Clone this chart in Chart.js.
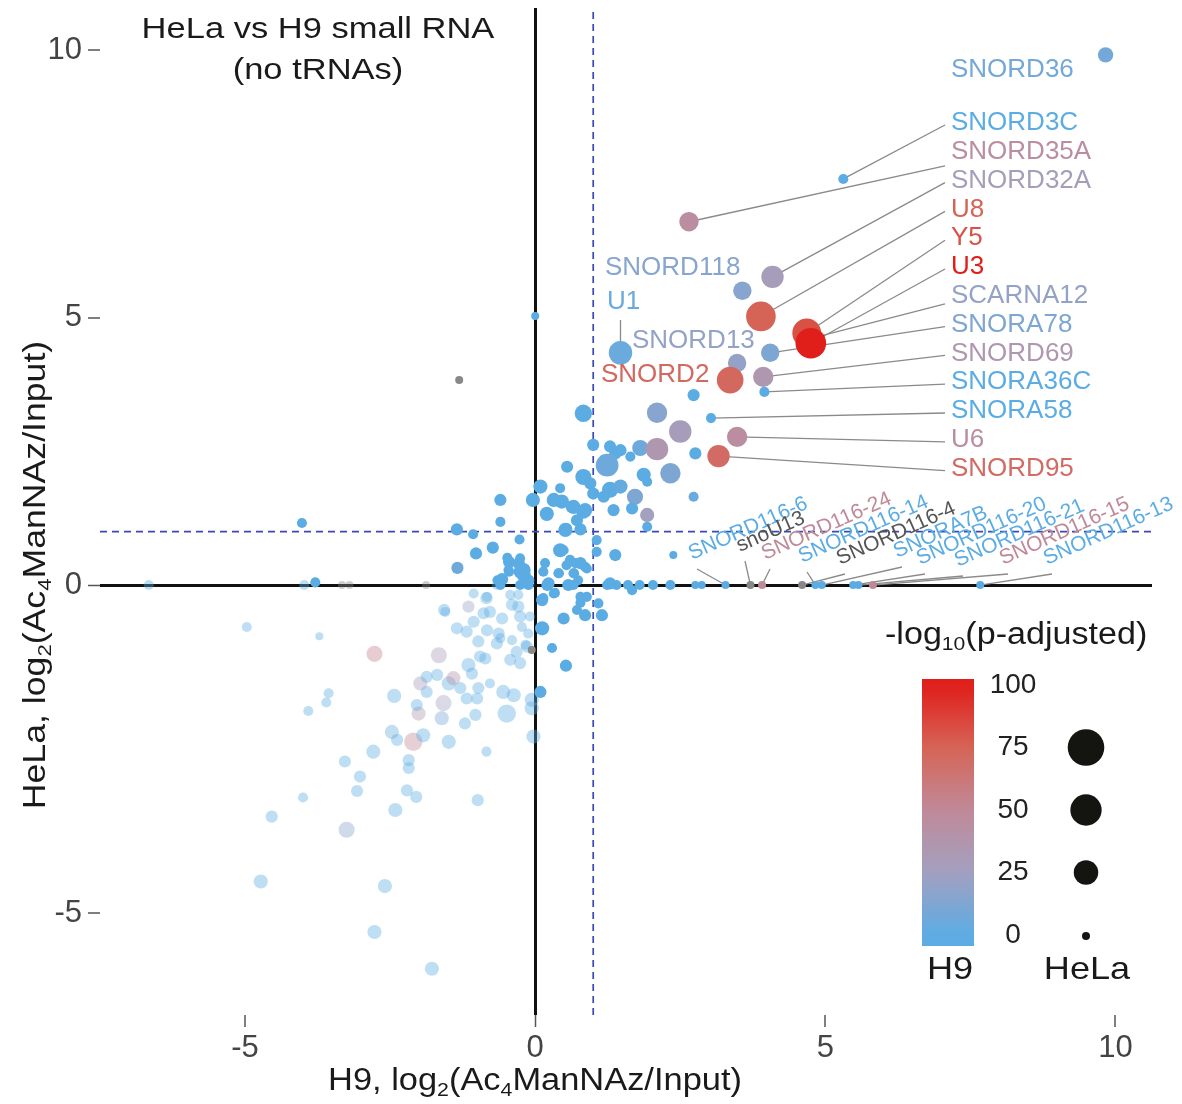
<!DOCTYPE html>
<html>
<head>
<meta charset="utf-8">
<script src="https://cdn.jsdelivr.net/npm/chart.js@4.4.1/dist/chart.umd.min.js"></script>
<style>
html,body{margin:0;padding:0;background:#fff;}
#wrap{width:1182px;height:1104px;position:relative;}
</style>
</head>
<body>
<div id="wrap"><canvas id="c" width="1182" height="1104"></canvas></div>
<script>
// ---------------- DATA ----------------
const xTicks = [-5, 0, 5, 10];
const yTicks = [-5, 0, 5, 10];
const xRange = [-7.5, 10.63];
const yRange = [-6.555, 10.785];
const thresholdX = 1;
const thresholdY = 1;
const colorLegendSteps = [0, 25, 50, 75, 100];
const sizeLegendSteps = [0, 25, 50, 75];

// [H9 log2, HeLa log2, H9 -log10 padj (null = NA), HeLa -log10 padj]
const enrichedPoints = [
  [0.00,5.03,0,0],[-4.02,1.16,0,0.4],[-3.79,0.05,0,0.4],
  [-0.60,1.59,0,1.6],[-0.60,1.18,0,0.4],[-1.35,1.04,0,1.6],[-1.07,0.95,0,0.4],[-0.27,0.85,0,0.4],
  [-0.73,0.70,0,1.6],[-1.02,0.59,0,1.6],[-0.48,0.51,0,0.4],[-0.26,0.50,0,0.4],[-1.34,0.32,6,1.6],
  [-0.46,0.28,0,0.4],[-0.20,0.28,0,3.5],[-0.20,0.19,0,3.5],[-0.57,0.11,0,1.6],[-0.04,1.59,0,3.5],
  [0.09,1.84,0,3.5],[0.17,0.41,0,0.4],[0.14,0.25,0,0.4],[0.40,0.22,0,0.4],[0.23,0.03,0,1.6],
  [0.43,0.65,0,3.5],[0.60,0.47,0,0.4],[0.78,0.41,0,1.6],[0.66,0.22,0,0.4],[0.57,0.00,0,1.6],
  [0.52,1.03,0,3.5],[0.78,1.04,0,1.6],[0.20,1.33,0,3.5],[0.32,1.59,0,3.5],[0.46,1.56,0,3.5],
  [0.43,1.81,0,0.4],[0.55,2.21,0,1.6],[0.63,1.46,0,1.6],[0.83,1.37,0,3.5],[0.83,2.02,0,6],
  [0.95,1.90,0,1.6],[1.00,1.71,0,1.6],[1.00,2.62,0,1.6],[1.29,2.59,0,1.6],[1.38,2.46,0,1.6],
  [1.24,2.24,6,20],[1.29,1.78,0,6],[1.35,1.40,0,1.6],[1.06,0.84,0,0.4],[1.06,0.62,0,0.4],
  [1.38,0.56,0,1.6],[0.89,0.31,0,0.4],[1.29,0.03,0,1.6],[0.83,3.21,0,8],[1.00,2.65,0,0],
  [1.47,2.52,0,1.6],[1.64,2.40,0,0.4],[1.81,2.56,6,6],[2.10,2.54,35,19],[2.10,3.22,15,14],
  [2.50,2.87,28,19],[2.33,2.09,12,14],[2.73,3.55,0,1.6],[2.76,2.46,0,1.6],[2.73,1.65,5,0.4],
  [1.47,1.84,3,3.5],[1.72,1.65,12,6],[1.87,2.06,0,3.5],[1.93,1.93,0,0.4],[1.67,1.43,0,1.6],
  [1.93,1.31,25,3.5],[1.93,1.09,0,0.4],[1.18,1.65,0,1.6],[0.66,1.46,0,3.5],[0.86,1.40,0,3.5],
  [0.72,1.21,0,1.6],[0.55,1.06,0,0.4],[0.49,0.65,0,0.4],[0.69,0.41,0,0.4],[0.86,0.34,0,0.4],
  [2.38,0.56,0,0],
  [0.66,0,0,0.4],[1.24,0,0,0.4],[1.40,0,0,0.4],[1.60,0,0,0.4],[1.80,0,0,0.4],[2.03,0,0,0.4],
  [2.33,0,0,0.4],[2.76,0,0,0],[2.87,0,0,0],[1.67,-0.08,0,0.4],
  [0.12,-0.23,0,1.6],[0.32,-0.13,0,0.4],[0.14,-0.20,0,0.4],[0.12,-0.66,0,3.5],[0.49,-0.51,0,1.6],
  [0.29,-0.96,0,0.4],[0.53,-1.23,0,1.6],[0.09,-1.63,0,1.6],[0.78,-0.18,0,0.4],[0.89,-0.18,0,0.4],
  [0.72,-0.38,0,0.4],[0.86,-0.46,0,1.6],[1.15,-0.46,0,1.6],[1.09,-0.28,0,0.4],[0.78,-0.27,0,0.4],
  [-1.31,3.83,null,0],[-0.06,-0.99,null,0],
  [-0.45,0.43,0,1.6],[-0.28,0.40,0,1.6],[-0.25,0.25,0,3.5],[-0.19,0.22,0,1.6],[-0.12,0.09,0,1.6],
  [-0.65,0.09,0,0.4],[-0.45,0.25,0,0.4],[0.41,0.22,0,0.4],[0.54,0.37,0,0.4],[0.67,0.22,0,0.4],
  [0.74,0.09,0,0.4],[0.21,0.00,0,1.6],[0.34,-0.12,0,0.4],
  [-0.60,0,0,0.4],[-0.26,0,0,0.4],[-0.12,0,0,0.4]
];

const backgroundPoints = [
  [-6.66,0,0,0.4],[-3.98,0,0,0.4],[-0.66,0,0,0.4],[-0.10,0,0,0.4],
  [-3.33,0,null,0],[-3.20,0,null,0],[-1.88,0,null,0],
  [-3.72,-0.78,0,0],[-2.77,-1.05,55,6],[-1.66,-1.07,30,6],[-3.56,-1.65,0,0.4],[-3.60,-1.79,0,0.4],
  [-3.91,-1.92,0,0.4],[-2.43,-1.69,0,3.5],[-3.28,-2.69,0,1.6],[-2.79,-2.54,0,3.5],[-3.02,-2.92,0,1.6],
  [-2.18,-2.67,0,1.6],[-2.18,-2.79,0,1.6],[-2.47,-2.24,5,3.5],[-2.38,-2.36,0,1.6],[-2.10,-2.39,50,10],
  [-2.01,-1.96,35,3.5],[-2.04,-1.83,0,1.6],[-1.98,-1.50,30,3.5],[-1.87,-1.40,0,1.6],[-1.69,-1.37,0,1.6],
  [-1.87,-1.63,0,1.6],[-1.58,-1.80,25,6],[-1.61,-2.03,10,3.5],[-1.93,-2.29,0,3.5],[-1.49,-2.39,0,3.5],
  [-1.49,-1.50,0,3.5],[-1.41,-1.42,40,3.5],[-1.29,-1.57,0,1.6],[-1.21,-2.11,0,1.6],[-1.03,-1.98,0,1.6],
  [-0.84,-2.54,0,0.4],[-1.15,-1.22,0,3.5],[-1.09,-1.35,0,1.6],[-0.98,-1.57,0,1.6],[-1.00,-1.73,0,1.6],
  [-1.18,-1.73,0,1.6],[-0.78,-1.50,0,0.4],[-0.95,-1.09,0,1.6],[-0.86,-1.12,0,1.6],[-0.98,-0.86,0,1.6],
  [-0.83,-0.69,0,1.6],[-0.66,-0.89,0,1.6],[-0.60,-0.81,0,0.4],[-0.43,-1.14,0,1.6],[-0.32,-1.02,0,1.6],
  [-0.17,-0.91,0,0.4],[-0.40,-0.84,0,0.4],[-0.55,-1.63,0,3.5],[-0.37,-1.68,0,3.5],[-0.49,-1.96,0,10],
  [-0.06,-1.75,0,3.5],[-0.06,-1.88,0,3.5],[-0.03,-2.31,0,3.5],[-0.89,-0.43,0,1.6],[-0.78,-0.41,0,1.6],
  [-0.57,-0.51,0,1.6],[-0.43,-0.15,0,0.4],[-0.29,-0.15,0,0.4],[-0.40,-0.30,0,1.6],[-0.29,-0.33,0,1.6],
  [-0.26,-0.48,0,1.6],[-0.23,-0.64,0,0.4],[-1.06,-0.13,0,0.4],[-0.83,-0.18,0,0.4],[-1.15,-0.33,20,1.6],
  [-1.55,-0.41,0,0.4],[-1.35,-0.66,0,1.6],[-1.18,-0.71,0,1.6],[-1.06,-0.56,0,1.6],[-0.63,-0.74,0,1.6],
  [-0.12,-0.74,0,0.4],[-0.09,-0.48,0,0.4],[-0.26,-1.19,0,1.6],[-0.14,-0.94,0,1.6],
  [-3.07,-3.14,0,1.6],[-4.00,-3.24,0,0.4],[-4.54,-3.53,0,1.6],[-2.21,-3.13,0,1.6],[-2.05,-3.23,0,1.6],
  [-2.41,-3.43,0,3.5],[-0.99,-3.28,0,1.6],[-3.25,-3.73,15,6],[-4.73,-4.52,0,3.5],[-2.59,-4.59,0,3.5],
  [-2.77,-5.29,0,3.5],[-1.78,-5.85,0,3.5],[-4.97,-0.64,0,0.4],[-1.57,-0.38,0,1.6],[-0.84,-0.20,0,1.6]
];

// labelled RNAs, drawn in this order (low H9 significance first)
const labelledNames = ['SNORA36C','SNORA58','SNORD3C','U1','SNORD36','SNORA78','SNORD118','SNORD13','SCARNA12',
  'SNORD32A','SNORD69','SNORD35A','U6','SNORD95','SNORD2','U8','Y5','U3'];
const labelledPoints = [
  [3.95,3.61,0,0.4],[3.03,3.12,0,0.4],[5.31,7.59,0,0.4],[1.47,4.34,5,22],[9.83,9.91,8,5],
  [4.05,4.34,12,10],[3.57,5.50,15,10],[3.48,4.15,20,10],[4.72,4.60,20,10],
  [4.09,5.76,28,19],[3.93,3.89,35,14],[2.65,6.79,45,12],[3.48,2.77,45,14],[3.16,2.41,70,19],
  [3.36,3.83,72,32],[3.89,5.02,75,43],[4.68,4.71,82,40],[4.75,4.52,100,47]
];

// RNAs on the HeLa = 0 line with slanted labels
const axisLabelNames = ['SNORD116-6','snoU13','SNORD116-24','SNORD116-14','SNORD116-4','SNORA7B',
  'SNORD116-20','SNORD116-21','SNORD116-15','SNORD116-13'];
const axisLabelPoints = [
  [3.28,0,0,0],[3.71,0,null,0],[3.91,0,50,0],[4.83,0,0,0],[4.60,0,null,0],[4.94,0,0,0],
  [5.48,0,0,0],[5.57,0,0,0],[5.82,0,50,0],[7.67,0,0,0]
];

// ---------------- STYLE / LAYOUT ----------------
const FONT = "'Liberation Sans', Arial, Helvetica, sans-serif";
const colorStops = [[0,[92,172,228]],[25,[163,160,192]],[50,[192,137,152]],[75,[214,100,86]],[100,[224,30,26]]];
function colorFor(v, a) {
  if (a === undefined) a = 1;
  if (v === null || v === undefined) return 'rgba(136,136,136,' + a + ')';
  v = Math.max(0, Math.min(100, v));
  for (let i = 0; i < colorStops.length - 1; i++) {
    const [v0, c0] = colorStops[i], [v1, c1] = colorStops[i + 1];
    if (v <= v1) {
      const t = (v - v0) / (v1 - v0);
      const c = c0.map((k, j) => Math.round(k + (c1[j] - k) * t));
      return 'rgba(' + c[0] + ',' + c[1] + ',' + c[2] + ',' + a + ')';
    }
  }
  const c = colorStops[colorStops.length - 1][1];
  return 'rgba(' + c[0] + ',' + c[1] + ',' + c[2] + ',' + a + ')';
}
function textColorFor(v) { return (v === null || v === undefined) ? '#555' : colorFor(v, 1); }
function radiusFor(v) { return 4 + 1.65 * Math.sqrt(Math.max(0, v)); }

// piecewise-linear value axis (the reference draws the negative half at a larger step)
const NEG_STRETCH = 1.226;
class SplitLinearScale extends Chart.LinearScale {
  _t(v) { return v < 0 ? v * NEG_STRETCH : v; }
  _inv(t) { return t < 0 ? t / NEG_STRETCH : t; }
  getPixelForValue(value) {
    if (value === null || value === undefined || isNaN(value)) return NaN;
    const a = this._t(this.min), b = this._t(this.max);
    return this.getPixelForDecimal((this._t(value) - a) / (b - a));
  }
  getValueForPixel(pixel) {
    const a = this._t(this.min), b = this._t(this.max);
    return this._inv(a + this.getDecimalForPixel(pixel) * (b - a));
  }
}
SplitLinearScale.id = 'splitLinear';
SplitLinearScale.defaults = Chart.LinearScale.defaults;
Chart.register(SplitLinearScale);

function drawRich(ctx, segs, x, y, o) {
  const size = o.size, sub = size * 0.62;
  ctx.save();
  ctx.translate(x, y);
  if (o.rotate) ctx.rotate(o.rotate);
  ctx.scale(o.sx || 1, 1);
  ctx.fillStyle = o.color || '#111';
  ctx.textBaseline = o.baseline || 'middle';
  ctx.textAlign = 'left';
  let w = 0;
  const ws = segs.map(s => { ctx.font = (s.sub ? sub : size) + 'px ' + FONT; const m = ctx.measureText(s.t).width; w += m; return m; });
  let cx = o.align === 'center' ? -w / 2 : (o.align === 'right' ? -w : 0);
  segs.forEach((s, i) => {
    ctx.font = (s.sub ? sub : size) + 'px ' + FONT;
    ctx.fillText(s.t, cx, s.sub ? size * 0.32 : 0);
    cx += ws[i];
  });
  ctx.restore();
}
const T = t => ({ t: t });
const S = t => ({ t: t, sub: true });

const rightColumnOrder = ['SNORD3C','SNORD35A','SNORD32A','U8','Y5','U3','SCARNA12','SNORA78','SNORD69','SNORA36C','SNORA58','U6','SNORD95'];
const rightColumnLineDy = { SNORD35A: 14, SCARNA12: 8 };
const freeLabelPos = { SNORD36: [951, 70], SNORD118: [605, 268], U1: [607, 302], SNORD13: [632, 341], SNORD2: [601, 375] };
const slantAnchors = [[692,560],[740,552],[765,560],[802,563],[840,565],[897,558],[920,565],[958,567],[1003,565],[1047,565]];

const annotations = {
  id: 'annotations',
  beforeDatasetsDraw(chart) {
    const ctx = chart.ctx, xs = chart.scales.x, ys = chart.scales.y;
    ctx.save();
    ctx.strokeStyle = '#8a8a8a';
    ctx.lineWidth = 1.3;
    rightColumnOrder.forEach((name, i) => {
      const p = labelledPoints[labelledNames.indexOf(name)];
      const ly = 123 + i * 28.8 + (rightColumnLineDy[name] || 2);
      ctx.beginPath();
      ctx.moveTo(945, ly);
      ctx.lineTo(xs.getPixelForValue(p[0]), ys.getPixelForValue(p[1]));
      ctx.stroke();
    });
    const u1 = labelledPoints[labelledNames.indexOf('U1')];
    ctx.beginPath();
    ctx.moveTo(xs.getPixelForValue(u1[0]), 320);
    ctx.lineTo(xs.getPixelForValue(u1[0]), ys.getPixelForValue(u1[1]));
    ctx.stroke();
    axisLabelPoints.forEach((p, i) => {
      const a = slantAnchors[i];
      ctx.beginPath();
      ctx.moveTo(a[0] + 5, a[1] + 9);
      ctx.lineTo(xs.getPixelForValue(p[0]), ys.getPixelForValue(p[1]));
      ctx.stroke();
    });
    ctx.restore();
  },
  afterDatasetsDraw(chart) {
    const ctx = chart.ctx;
    rightColumnOrder.forEach((name, i) => {
      const p = labelledPoints[labelledNames.indexOf(name)];
      drawRich(ctx, [T(name)], 951, 123 + i * 28.8, { size: 26, color: textColorFor(p[2]) });
    });
    Object.keys(freeLabelPos).forEach(name => {
      const p = labelledPoints[labelledNames.indexOf(name)];
      const pos = freeLabelPos[name];
      drawRich(ctx, [T(name)], pos[0], pos[1], { size: 26, color: textColorFor(p[2]) });
    });
    axisLabelNames.forEach((name, i) => {
      const a = slantAnchors[i];
      drawRich(ctx, [T(name)], a[0], a[1], { size: 21, color: textColorFor(axisLabelPoints[i][2]), rotate: -24 * Math.PI / 180, baseline: 'alphabetic' });
    });
    drawRich(ctx, [T('HeLa vs H9 small RNA')], 318, 30, { size: 30, sx: 1.15, align: 'center', color: '#1a1a1a' });
    drawRich(ctx, [T('(no tRNAs)')], 318, 71, { size: 30, sx: 1.15, align: 'center', color: '#1a1a1a' });
    drawRich(ctx, [T('H9, log'), S('2'), T('(Ac'), S('4'), T('ManNAz/Input)')], 535, 1081, { size: 31, sx: 1.11, align: 'center', color: '#1a1a1a' });
    drawRich(ctx, [T('HeLa, log'), S('2'), T('(Ac'), S('4'), T('ManNAz/Input)')], 36, 575, { size: 31, sx: 1.15, align: 'center', color: '#1a1a1a', rotate: -Math.PI / 2 });
    drawRich(ctx, [T('-log'), S('10'), T('(p-adjusted)')], 885, 635, { size: 31, sx: 1.1, color: '#1a1a1a' });
    const barX = 922, barW = 52, v2y = v => 935 - v * 2.5;
    const top = v2y(102.4), bot = v2y(-4.4);
    const g = ctx.createLinearGradient(0, bot, 0, top);
    for (let k = 0; k <= 20; k++) {
      const v = -4.4 + k * (106.8 / 20);
      g.addColorStop(k / 20, colorFor(v, 1));
    }
    ctx.fillStyle = g;
    ctx.fillRect(barX, top, barW, bot - top);
    colorLegendSteps.forEach(v => {
      drawRich(ctx, [T(String(v))], 1013, v2y(v), { size: 28, align: 'center', color: '#222' });
    });
    sizeLegendSteps.forEach(v => {
      ctx.beginPath();
      ctx.fillStyle = '#141410';
      ctx.arc(1086, v2y(v) + (v === 0 ? 1 : 0), radiusFor(v), 0, Math.PI * 2);
      ctx.fill();
    });
    drawRich(ctx, [T('H9')], 950, 970, { size: 32, sx: 1.13, align: 'center', color: '#1a1a1a' });
    drawRich(ctx, [T('HeLa')], 1087, 970, { size: 32, sx: 1.13, align: 'center', color: '#1a1a1a' });
  }
};

const toPts = arr => arr.map(p => ({ x: p[0], y: p[1], h9: p[2], hela: p[3] }));
function pointDataset(arr, alpha, order) {
  return {
    data: toPts(arr),
    order: order,
    showLine: false,
    pointRadius: c => radiusFor(c.raw.hela),
    pointHoverRadius: c => radiusFor(c.raw.hela),
    pointBackgroundColor: c => colorFor(c.raw.h9, alpha),
    pointBorderColor: 'rgba(0,0,0,0)',
    pointBorderWidth: 0
  };
}
function dashedDataset(pts) {
  return { data: pts, showLine: true, order: 10, borderColor: '#3a49b3', borderWidth: 1.7, borderDash: [7, 5], pointRadius: 0, fill: false };
}

const gridOpts = {
  color: c => (c.tick && c.tick.value === 0) ? '#111' : 'rgba(0,0,0,0)',
  lineWidth: c => (c.tick && c.tick.value === 0) ? 3 : 0,
  tickColor: '#555', tickWidth: 1.5, tickLength: 12, drawTicks: true, drawOnChartArea: true
};

new Chart(document.getElementById('c'), {
  type: 'scatter',
  data: {
    datasets: [
      dashedDataset([{ x: thresholdX, y: yRange[0] }, { x: thresholdX, y: yRange[1] }]),
      dashedDataset([{ x: xRange[0], y: thresholdY }, { x: xRange[1], y: thresholdY }]),
      pointDataset(backgroundPoints, 0.4, 6),
      pointDataset(enrichedPoints, 1, 4),
      pointDataset(axisLabelPoints, 1, 3),
      pointDataset(labelledPoints, 1, 2)
    ]
  },
  options: {
    responsive: false, animation: false, devicePixelRatio: 1, events: [],
    layout: { autoPadding: false, padding: { top: 8, right: 30, left: 0, bottom: 0 } },
    plugins: { legend: { display: false }, tooltip: { enabled: false }, title: { display: false } },
    scales: {
      x: {
        type: 'linear', min: xRange[0], max: xRange[1],
        afterBuildTicks: s => { s.ticks = xTicks.map(v => ({ value: v })); },
        afterFit: s => { s.height = 89; s.paddingLeft = 0; s.paddingRight = 0; },
        grid: gridOpts, border: { display: false },
        ticks: { font: { family: FONT, size: 31 }, color: '#444', padding: 3, maxRotation: 0 }
      },
      y: {
        type: 'splitLinear', min: yRange[0], max: yRange[1],
        afterBuildTicks: s => { s.ticks = yTicks.map(v => ({ value: v })); },
        afterFit: s => { s.width = 100; s.paddingTop = 0; s.paddingBottom = 0; },
        grid: gridOpts, border: { display: false },
        ticks: { font: { family: FONT, size: 31 }, color: '#444', padding: 6 }
      }
    }
  },
  plugins: [annotations]
});
</script>
</body>
</html>
